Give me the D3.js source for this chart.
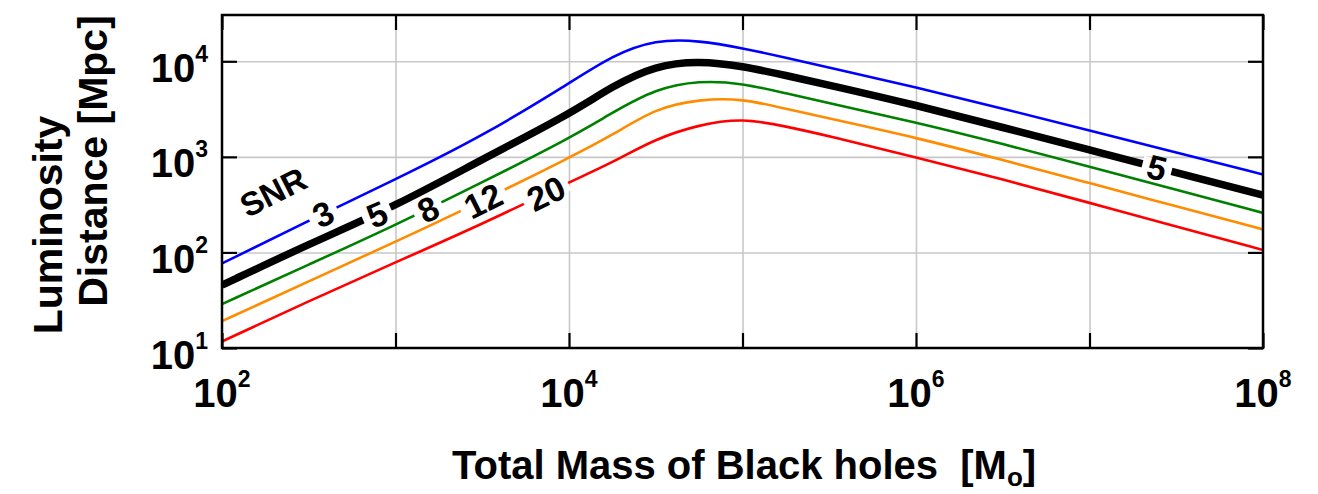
<!DOCTYPE html>
<html><head><meta charset="utf-8">
<script src="https://cdn.jsdelivr.net/npm/d3@7"></script>
<style>
body{margin:0;background:#fff;}
svg text{font-family:"Liberation Sans",Arial,Helvetica,sans-serif;font-weight:bold;fill:#000;}
</style></head><body>
<svg id="chart" width="1318" height="494"></svg>
<script>
// ---- data ----
const masses = [100, 316, 1000, 3162, 10000, 17783, 31623, 56234, 100000, 177828, 316228, 1000000, 3162278, 10000000, 31622777, 100000000];
const snrLevels = ["3", "5", "8", "12", "20"];
const distSNR3  = [76.7, 215, 579, 1641, 5834, 11530, 16900, 16500, 13740, 10910, 8570, 5370, 3200, 1888, 1112, 653];
const distSNR5  = [45.5, 122, 305, 944, 2767, 5510, 9060, 10100, 8910, 7100, 5640, 3480, 2030, 1180, 686, 397];
const distSNR8  = [28.8, 74.6, 193, 543, 1552, 2904, 5160, 6300, 5900, 4624, 3648, 2300, 1368, 789, 452, 259];
const distSNR12 = [19.1, 49.8, 129, 346, 975, 1683, 3240, 4000, 4080, 3177, 2518, 1592, 929, 531, 304, 174];
const distSNR20 = [11.7, 31, 78.7, 198, 543, 871, 1552, 2173, 2550, 2080, 1652, 986, 582, 330, 187, 106];
const seriesColors = ["#0000ff", "#000000", "#008000", "#ff8c00", "#ff0000"];
const seriesWidths = [2.6, 7.5, 2.6, 2.6, 2.6];
const xTickValues = [1e2, 1e3, 1e4, 1e5, 1e6, 1e7, 1e8];
const xLabelValues = [1e2, 1e4, 1e6, 1e8];
const xLabelExponents = ["2", "4", "6", "8"];
const yTickValues = [1e1, 1e2, 1e3, 1e4];
const yLabelExponents = ["1", "2", "3", "4"];
const xGridValues = [1e3, 1e4, 1e5, 1e6, 1e7];
const yGridValues = [1e2, 1e3, 1e4];
// contour labels: series index and mass at which the label sits on the curve
const labelSeries = [0, 1, 2, 3, 4, 1];
const labelMasses = [382, 782, 1538, 3192, 7362, 24500000];
const labelTexts  = ["3", "5", "8", "12", "20", "5"];
const snrTitleMass = 197, snrTitleDist = 430;

const allSeries = [distSNR3, distSNR5, distSNR8, distSNR12, distSNR20];

// ---- layout ----
const L = 222, R = 1263, T = 15, B = 348;
const svg = d3.select("#chart");
const x = d3.scaleLog().domain([1e2, 1e8]).range([L, R]);
const y = d3.scaleLog().domain([10, 30500]).range([B, T]);

// gridlines
svg.append("g").attr("transform", `translate(0,${B})`)
  .call(d3.axisBottom(x).tickValues(xGridValues).tickSize(-(B - T)).tickFormat(""))
  .call(g => g.select(".domain").remove())
  .selectAll("line").attr("stroke", "#c8c8c8").attr("stroke-width", 1.6);
svg.append("g").attr("transform", `translate(${L},0)`)
  .call(d3.axisLeft(y).tickValues(yGridValues).tickSize(-(R - L)).tickFormat(""))
  .call(g => g.select(".domain").remove())
  .selectAll("line").attr("stroke", "#c8c8c8").attr("stroke-width", 1.6);

// curves
const line = d3.line()
  .x((d, i) => x(masses[i]))
  .y(d => y(d))
  .curve(d3.curveBasis);
const plot = svg.append("g");
plot.append("clipPath").attr("id", "clip").append("rect")
  .attr("x", L).attr("y", T).attr("width", R - L).attr("height", B - T);
plot.selectAll("path.curve").data(allSeries).join("path")
  .attr("class", "curve")
  .attr("clip-path", "url(#clip)")
  .attr("d", d => line(d))
  .attr("fill", "none")
  .attr("stroke", (d, i) => seriesColors[i])
  .attr("stroke-width", (d, i) => seriesWidths[i])
  .attr("stroke-linejoin", "round");

// contour labels
function posOnSeries(si, m) {
  const data = allSeries[si];
  const lm = Math.log10(m);
  let i = d3.bisectRight(masses.map(v => Math.log10(v)), lm) - 1;
  i = Math.max(0, Math.min(masses.length - 2, i));
  const x0 = x(masses[i]), x1 = x(masses[i + 1]);
  const y0 = y(data[i]), y1 = y(data[i + 1]);
  const px = x(m);
  const t = (px - x0) / (x1 - x0);
  const py = y0 + t * (y1 - y0);
  const ang = Math.atan2(y1 - y0, x1 - x0) * 180 / Math.PI;
  return [px, py, ang];
}
labelTexts.forEach((txt, k) => {
  const [px, py, ang] = posOnSeries(labelSeries[k], labelMasses[k]);
  const g = svg.append("g").attr("transform", `translate(${px},${py}) rotate(${ang})`);
  const w = txt.length * 19 + 11;
  g.append("rect").attr("x", -w / 2).attr("y", -8).attr("width", w).attr("height", 16).attr("fill", "#fff");
  g.append("text").attr("text-anchor", "middle").attr("dy", "0.36em")
    .style("font-size", "34px").text(txt);
});
svg.append("text")
  .attr("transform", `translate(${x(snrTitleMass)},${y(snrTitleDist)}) rotate(-27)`)
  .attr("text-anchor", "middle").attr("dy", "0.36em")
  .style("font-size", "33px").text("SNR");

// ticks (inward) on all four sides
function ticks(axis, tx) {
  svg.append("g").attr("transform", tx)
    .call(axis)
    .call(g => g.select(".domain").remove())
    .selectAll("line").attr("stroke", "#000").attr("stroke-width", 2.2);
}
ticks(d3.axisBottom(x).tickValues(xTickValues).tickSize(-15).tickFormat(""), `translate(0,${B})`);
ticks(d3.axisTop(x).tickValues(xTickValues).tickSize(-15).tickFormat(""), `translate(0,${T})`);
ticks(d3.axisLeft(y).tickValues(yTickValues).tickSize(-15).tickFormat(""), `translate(${L},0)`);
ticks(d3.axisRight(y).tickValues(yTickValues).tickSize(-15).tickFormat(""), `translate(${R},0)`);

// frame
svg.append("rect").attr("x", L).attr("y", T).attr("width", R - L).attr("height", B - T)
  .attr("fill", "none").attr("stroke", "#000").attr("stroke-width", 2.5);

// tick labels
xLabelValues.forEach((v, i) => {
  const t = svg.append("text").attr("x", x(v)).attr("y", 407).attr("text-anchor", "middle");
  t.append("tspan").style("font-size", "40px").text("10");
  t.append("tspan").style("font-size", "23px").attr("dy", -20).text(xLabelExponents[i]);
});
yTickValues.forEach((v, i) => {
  const t = svg.append("text").attr("x", 208).attr("y", y(v) + 20.5).attr("text-anchor", "end");
  t.append("tspan").style("font-size", "40px").text("10");
  t.append("tspan").style("font-size", "23px").attr("dy", -20).text(yLabelExponents[i]);
});

// axis titles
const xt = svg.append("text").attr("x", 452).attr("y", 479).style("font-size", "40px");
xt.append("tspan").text("Total Mass of Black holes\u00a0\u00a0[M");
xt.append("tspan").style("font-size", "26px").attr("dy", 7).text("o");
xt.append("tspan").attr("dy", -7).text("]");

svg.append("text").attr("transform", "translate(62,225) rotate(-90)")
  .attr("text-anchor", "middle").style("font-size", "41px").text("Luminosity");
svg.append("text").attr("transform", "translate(107,161) rotate(-90)")
  .attr("text-anchor", "middle").style("font-size", "41px").text("Distance [Mpc]");
</script>
</body></html>
